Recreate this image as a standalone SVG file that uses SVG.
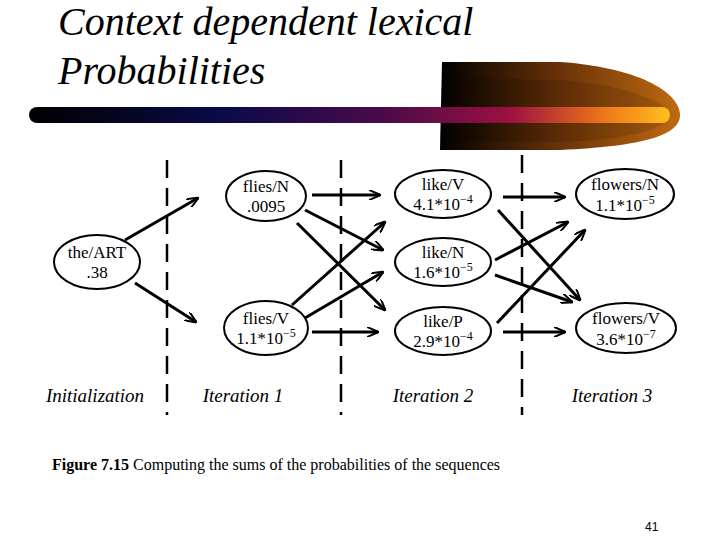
<svg xmlns="http://www.w3.org/2000/svg" width="720" height="540" viewBox="0 0 720 540">
<defs>
<linearGradient id="bar" x1="0" x2="1" y1="0" y2="0">
<stop offset="0" stop-color="#000"/><stop offset="0.3" stop-color="#0a0a4a"/><stop offset="0.55" stop-color="#4a0a4a"/><stop offset="0.75" stop-color="#9a1040"/><stop offset="0.9" stop-color="#f07818"/><stop offset="1" stop-color="#ffc020"/>
</linearGradient>
<linearGradient id="blob" x1="0" x2="1" y1="0" y2="0">
<stop offset="0" stop-color="#000"/><stop offset="0.5" stop-color="#6a3208"/><stop offset="1" stop-color="#c06a10"/>
</linearGradient>
<marker id="ah" viewBox="0 0 12 10" refX="11" refY="5" markerWidth="12" markerHeight="10" markerUnits="userSpaceOnUse" orient="auto">
<path d="M0,0 L12,5 L0,10" fill="none" stroke="#000" stroke-width="2"/>
</marker>
<style>
.n ellipse{fill:#fff;stroke:#000;stroke-width:2}
.n text{font-family:"Liberation Serif",serif;font-size:17px;text-anchor:middle}
.c line{stroke:#000;stroke-width:3;marker-end:url(#ah)}
.d{stroke:#000;stroke-width:2.5;stroke-dasharray:18 10}
.it{font-family:"Liberation Serif",serif;font-style:italic;font-size:19px;text-anchor:middle}
.sup{font-size:12px}
.title{font-family:"Liberation Serif","DejaVu Serif",serif;font-style:italic;font-size:40px}
.cap{font-family:"Liberation Serif",serif;font-size:16px}
</style>
</defs>
<rect width="720" height="540" fill="#fff"/>
<path d="M442,62 L560,62 C645,68 680,95 680,115 C680,135 645,146 560,150 L440,150 Z" fill="url(#blob)"/>
<path d="M442,78 L560,80 C630,86 668,102 670,115 C668,128 630,140 560,142 L440,142 Z" fill="#000" opacity="0.12"/>
<rect x="29" y="107" width="641" height="16" rx="8" fill="url(#bar)"/>
<text class="title" x="58" y="35">Context dependent lexical</text>
<text class="title" x="58" y="84">Probabilities</text>
<g id="dividers">
<line class="d" x1="167" y1="160" x2="167" y2="415"/>
<line class="d" x1="341" y1="160" x2="341" y2="415"/>
<line class="d" x1="522" y1="155" x2="522" y2="415"/>
</g>
<g id="connectors" class="c">
<line x1="125" y1="240" x2="198" y2="198"/>
<line x1="135" y1="283" x2="196" y2="322"/>
<line x1="312" y1="195" x2="380" y2="195"/>
<line x1="305" y1="210" x2="383" y2="250"/>
<line x1="297" y1="223" x2="385" y2="310"/>
<line x1="292" y1="305" x2="385" y2="222"/>
<line x1="305" y1="318" x2="383" y2="272"/>
<line x1="312" y1="332" x2="378" y2="332"/>
<line x1="503" y1="197" x2="565" y2="197"/>
<line x1="498" y1="210" x2="580" y2="300"/>
<line x1="495" y1="260" x2="568" y2="222"/>
<line x1="495" y1="275" x2="572" y2="302"/>
<line x1="497" y1="323" x2="585" y2="230"/>
<line x1="503" y1="332" x2="565" y2="332"/>
</g>
<g id="theART" class="n"><ellipse cx="97" cy="262" rx="43" ry="27"/><text x="97" y="258">the/ART</text><text x="97" y="278">.38</text></g>
<g id="fliesN" class="n"><ellipse cx="266" cy="196" rx="40" ry="25"/><text x="266" y="192">flies/N</text><text x="266" y="212">.0095</text></g>
<g id="fliesV" class="n"><ellipse cx="266" cy="328" rx="42" ry="27"/><text x="266" y="324">flies/V</text><text x="266" y="344">1.1*10<tspan class="sup" dy="-7">−5</tspan></text></g>
<g id="likeV" class="n"><ellipse cx="443" cy="194" rx="48" ry="24"/><text x="443" y="190">like/V</text><text x="443" y="210">4.1*10<tspan class="sup" dy="-7">−4</tspan></text></g>
<g id="likeN" class="n"><ellipse cx="443" cy="262" rx="48" ry="24"/><text x="443" y="258">like/N</text><text x="443" y="278">1.6*10<tspan class="sup" dy="-7">−5</tspan></text></g>
<g id="likeP" class="n"><ellipse cx="443" cy="331" rx="48" ry="24"/><text x="443" y="327">like/P</text><text x="443" y="347">2.9*10<tspan class="sup" dy="-7">−4</tspan></text></g>
<g id="flowersN" class="n"><ellipse cx="625" cy="194" rx="49" ry="25"/><text x="625" y="190">flowers/N</text><text x="625" y="211">1.1*10<tspan class="sup" dy="-7">−5</tspan></text></g>
<g id="flowersV" class="n"><ellipse cx="626" cy="328" rx="50" ry="25"/><text x="626" y="324">flowers/V</text><text x="626" y="345">3.6*10<tspan class="sup" dy="-7">−7</tspan></text></g>
<text class="it" x="95" y="402">Initialization</text>
<text class="it" x="243" y="402">Iteration 1</text>
<text class="it" x="433" y="402">Iteration 2</text>
<text class="it" x="612" y="402">Iteration 3</text>
<text class="cap" x="52" y="470"><tspan font-weight="bold">Figure 7.15</tspan>   Computing the sums of the probabilities of the sequences</text>
<text x="645" y="531" font-family="Liberation Sans,sans-serif" font-size="12">41</text>
</svg>
